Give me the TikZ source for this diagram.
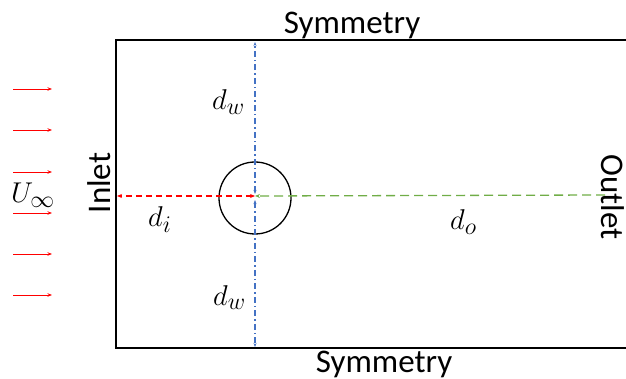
\documentclass[tikz,border=0pt]{standalone}
\usepackage[no-math]{fontspec}
\setmainfont{Carlito}
\usetikzlibrary{arrows.meta}
\definecolor{offblue}{HTML}{4472C4}
\definecolor{offgreen}{HTML}{70AD47}
\definecolor{offred}{HTML}{FF0000}
\begin{document}
\begin{tikzpicture}[x=1pt,y=-1pt,
  lbl/.style={font=\fontsize{33}{36}\selectfont, inner sep=0pt, anchor=base},
  mlbl/.style={font=\fontsize{24.88}{28}\selectfont, inner sep=0pt, anchor=base west, scale=1.15, transform shape},
  wall/.style={line width=1.3pt},
  flow/.style={offred, line width=0.9pt, -{Stealth[length=4.5pt,width=3.5pt]}},
  dimred/.style={offred, line width=1.3pt, dash pattern=on 6pt off 4pt, {Stealth[length=5pt,width=4pt]}-{Stealth[length=5pt,width=4pt]}},
  dimgreen/.style={offgreen, line width=1.3pt, dash pattern=on 9pt off 5pt, -{Stealth[length=5pt,width=4pt]}},
  dimblue/.style={offblue, line width=1.1pt, dash pattern=on 6pt off 3pt on 1.5pt off 3pt, {Stealth[length=4pt,width=3pt]}-{Stealth[length=4pt,width=3pt]}}]
\useasboundingbox (0,0) rectangle (626,379);
% domain
\coordinate (tl) at (116,40);
\coordinate (tr) at (626,40);
\coordinate (bl) at (116,348);
\coordinate (br) at (626,348);
\draw[wall] (tr) -- (tl) -- (bl) -- (br);
% cylinder
\node[draw, circle, line width=1.3pt, minimum size=72pt, inner sep=0pt] (cyl) at (255,198) {};
\coordinate (c) at (255,196);
\coordinate (cu) at (255,194);
\coordinate (cd) at (255,200);
\coordinate (inletpt) at (117,196);
\coordinate (outletpt) at (605,195);
\coordinate (topw) at (255,42);
\coordinate (botw) at (255,347);
% dimension lines
\draw[dimblue] (cu) -- (topw);
\draw[dimblue] (cd) -- (botw);
\draw[dimred] (c) -- (inletpt);
\draw[dimgreen] (outletpt) -- (c);
% labels
\node[lbl] (symtop) at (352,34) {Symmetry};
\node[lbl] (symbot) at (384,372) {Symmetry};
\node[lbl, rotate=90] (inlet) at (110,183) {Inlet};
\node[lbl, rotate=-90] (outlet) at (601,197) {Outlet};
\node[mlbl] (dwtop) at (212,110) {$d_w$};
\node[mlbl] (dwbot) at (213,305) {$d_w$};
\node[mlbl] (di) at (148,227) {$d_i$};
\node[mlbl] (do) at (450,230) {$d_o$};
\node[mlbl] (uinf) at (11,203) {$U_\infty$};
% free stream arrows
\foreach \yy [count=\i] in {89,130,172,213,254,295}{
  \coordinate (fs\i a) at (13,\yy);
  \coordinate (fs\i b) at (52,\yy);
  \draw[flow] (fs\i a) -- (fs\i b);
}
\end{tikzpicture}
\end{document}
